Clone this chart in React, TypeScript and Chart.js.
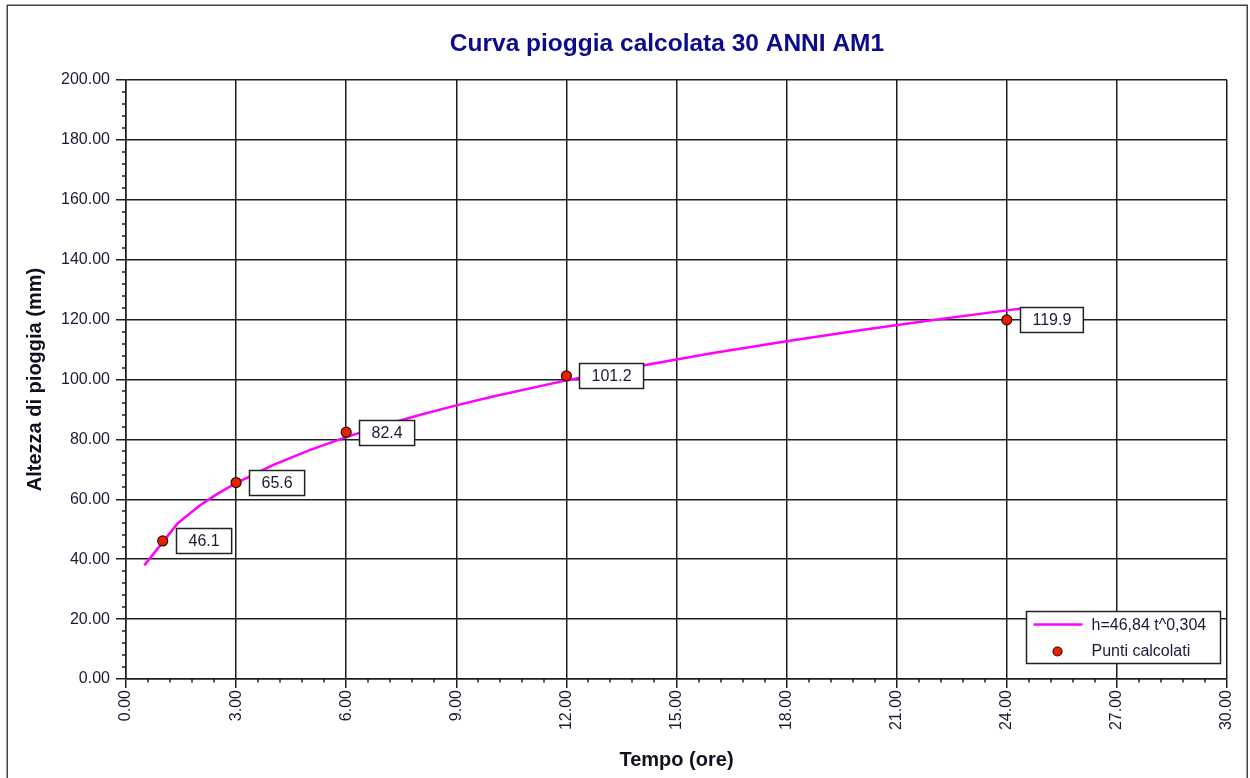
import { useEffect, useRef } from 'react';
import { Chart, registerables } from 'chart.js';

Chart.register(...registerables);

// Fitted curve h = 46,84 t^0,304
const curveT = [0.5, 1.4, 2, 2.5, 3, 4, 5, 6, 7, 8, 9, 10, 12, 14, 16, 18, 20, 22, 24, 24.4];
const curveH = [37.94, 51.88, 57.83, 61.88, 65.41, 71.39, 76.41, 80.76, 84.63, 88.13, 91.35, 94.33, 99.7, 104.49, 108.82, 112.78, 116.45, 119.87, 123.08, 123.7];

// Computed points
const pointT = [1, 3, 6, 12, 24];
const pointH = [46.1, 65.6, 82.4, 101.2, 119.9];

const xTicks = [0, 3, 6, 9, 12, 15, 18, 21, 24, 27, 30];
const yTicks = [0, 20, 40, 60, 80, 100, 120, 140, 160, 180, 200];

const curveLabel = 'h=46,84 t^0,304';
const pointsLabel = 'Punti calcolati';
const titleText = 'Curva pioggia calcolata 30 ANNI AM1';
const xTitle = 'Tempo (ore)';
const yTitle = 'Altezza di pioggia (mm)';

const FONT = '"Liberation Sans", Arial, sans-serif';
const TEXT = '#1a1a36';
const GRID = '#1e1e1e';
const MAGENTA = '#ff00ff';
const RED = '#e82000';

const framePlugin = {
  id: 'frame',
  beforeDraw(chart: any) {
    const ctx = chart.ctx;
    ctx.save();
    ctx.fillStyle = '#ffffff';
    ctx.fillRect(0, 0, chart.width, chart.height);
    ctx.strokeStyle = '#444444';
    ctx.lineWidth = 1.5;
    ctx.strokeRect(7.25, 5.25, 1240, 830);
    ctx.restore();
  },
};

const titlePlugin = {
  id: 'customTitle',
  afterDraw(chart: any) {
    const ctx = chart.ctx;
    ctx.save();
    ctx.fillStyle = '#0c0c8a';
    ctx.font = `bold 24.5px ${FONT}`;
    ctx.textAlign = 'center';
    ctx.textBaseline = 'middle';
    ctx.fillText(titleText, 667, 44);
    ctx.restore();
  },
};

const minorTicksPlugin = {
  id: 'minorTicks',
  afterDraw(chart: any) {
    const { ctx, chartArea: a } = chart;
    const x = chart.scales.x;
    const y = chart.scales.y;
    ctx.save();
    ctx.strokeStyle = GRID;
    ctx.lineWidth = 1.5;
    ctx.beginPath();
    for (let i = 0; i < xTicks.length - 1; i++) {
      for (let k = 1; k < 5; k++) {
        const v = xTicks[i] + ((xTicks[i + 1] - xTicks[i]) * k) / 5;
        const px = Math.round(x.getPixelForValue(v));
        ctx.moveTo(px, a.bottom);
        ctx.lineTo(px, a.bottom + 3.5);
      }
    }
    for (let i = 0; i < yTicks.length - 1; i++) {
      for (let k = 1; k < 5; k++) {
        const v = yTicks[i] + ((yTicks[i + 1] - yTicks[i]) * k) / 5;
        const py = Math.round(y.getPixelForValue(v));
        ctx.moveTo(a.left, py);
        ctx.lineTo(a.left - 4, py);
      }
    }
    ctx.stroke();
    ctx.restore();
  },
};

const labelsPlugin = {
  id: 'pointLabels',
  afterDatasetsDraw(chart: any) {
    const ctx = chart.ctx;
    const meta = chart.getDatasetMeta(1);
    ctx.save();
    ctx.font = `16px ${FONT}`;
    ctx.textBaseline = 'middle';
    ctx.textAlign = 'center';
    meta.data.forEach((el: any, i: number) => {
      const txt = pointH[i].toFixed(1);
      const tw = ctx.measureText(txt).width;
      const w = tw + 24;
      const h = 25;
      const bx = Math.round(el.x + 13) + 0.5;
      const by = Math.round(el.y - h / 2) + 0.5;
      ctx.fillStyle = '#ffffff';
      ctx.fillRect(bx, by, w, h);
      ctx.strokeStyle = '#222222';
      ctx.lineWidth = 1.5;
      ctx.strokeRect(bx, by, w, h);
      ctx.fillStyle = TEXT;
      ctx.fillText(txt, bx + w / 2, by + h / 2 + 1);
    });
    ctx.restore();
  },
};

const legendPlugin = {
  id: 'innerLegend',
  afterDraw(chart: any) {
    const { ctx, chartArea: a } = chart;
    const w = 194;
    const h = 52;
    const right = a.right - 7;
    const bottom = a.bottom - 16;
    const left = Math.round(right - w) + 0.5;
    const top = Math.round(bottom - h) + 0.5;
    ctx.save();
    ctx.fillStyle = '#ffffff';
    ctx.fillRect(left, top, w, h);
    ctx.strokeStyle = '#222222';
    ctx.lineWidth = 1.5;
    ctx.strokeRect(left, top, w, h);
    ctx.strokeStyle = MAGENTA;
    ctx.lineWidth = 2.5;
    ctx.beginPath();
    ctx.moveTo(left + 7, top + 13);
    ctx.lineTo(left + 56, top + 13);
    ctx.stroke();
    ctx.fillStyle = RED;
    ctx.strokeStyle = '#300800';
    ctx.lineWidth = 1.2;
    ctx.beginPath();
    ctx.arc(left + 31, top + 40, 4.5, 0, Math.PI * 2);
    ctx.fill();
    ctx.stroke();
    ctx.fillStyle = TEXT;
    ctx.font = `16px ${FONT}`;
    ctx.textBaseline = 'middle';
    ctx.textAlign = 'left';
    ctx.fillText(chart.data.datasets[0].label, left + 65, top + 14);
    ctx.fillText(chart.data.datasets[1].label, left + 65, top + 40);
    ctx.restore();
  },
};

export default function App() {
  const ref = useRef<HTMLCanvasElement | null>(null);

  useEffect(() => {
    if (!ref.current) return;
    const chart = new Chart(ref.current, {
      type: 'scatter',
      data: {
        datasets: [
          {
            label: curveLabel,
            data: curveT.map((t, i) => ({ x: t, y: curveH[i] })),
            showLine: true,
            borderColor: MAGENTA,
            backgroundColor: MAGENTA,
            borderWidth: 2.5,
            pointRadius: 0,
            tension: 0,
            order: 1,
          },
          {
            label: pointsLabel,
            data: pointT.map((t, i) => ({ x: t, y: pointH[i] })),
            showLine: false,
            pointRadius: 5,
            pointBackgroundColor: RED,
            pointBorderColor: '#300800',
            pointBorderWidth: 1.2,
            order: 0,
          },
        ],
      },
      options: {
        animation: false,
        responsive: false,
        maintainAspectRatio: false,
        layout: { padding: { left: 0, right: 23, top: 80, bottom: 0 } },
        plugins: {
          legend: { display: false },
          tooltip: { enabled: false },
          title: { display: false },
        },
        scales: {
          x: {
            type: 'linear',
            position: 'bottom',
            min: 0,
            max: 30,
            afterBuildTicks: (s: any) => {
              s.ticks = xTicks.map((v) => ({ value: v }));
            },
            afterFit: (s: any) => {
              s.height = 99;
            },
            grid: { color: GRID, lineWidth: 1.5, tickLength: 9, tickColor: GRID, tickWidth: 1.5 },
            border: { color: GRID, width: 1.5 },
            ticks: {
              minRotation: 90,
              maxRotation: 90,
              padding: 2,
              color: TEXT,
              font: { family: FONT, size: 16 },
              callback: (v: any) => Number(v).toFixed(2),
            },
            title: {
              display: true,
              text: xTitle,
              color: '#101020',
              font: { family: FONT, size: 20, weight: 'bold', lineHeight: 1.2 },
              padding: { top: 0, bottom: 6 },
            },
          },
          y: {
            type: 'linear',
            position: 'left',
            min: 0,
            max: 200,
            afterBuildTicks: (s: any) => {
              s.ticks = yTicks.map((v) => ({ value: v }));
            },
            afterFit: (s: any) => {
              s.width = 126;
            },
            grid: { color: GRID, lineWidth: 1.5, tickLength: 10, tickColor: GRID, tickWidth: 1.5 },
            border: { color: GRID, width: 1.5 },
            ticks: {
              padding: 6,
              color: TEXT,
              font: { family: FONT, size: 16 },
              callback: (v: any) => Number(v).toFixed(2),
            },
            title: {
              display: true,
              text: yTitle,
              color: '#101020',
              font: { family: FONT, size: 20, weight: 'bold', lineHeight: 1.2 },
              padding: { top: 23, bottom: 0 },
            },
          },
        },
      },
      plugins: [framePlugin, minorTicksPlugin, labelsPlugin, legendPlugin, titlePlugin],
    } as any);
    return () => chart.destroy();
  }, []);

  return (
    <div style={{ position: 'absolute', left: 0, top: 0, width: 1250, height: 778, background: '#fff' }}>
      <canvas ref={ref} width={1250} height={778} style={{ width: 1250, height: 778, display: 'block' }} />
    </div>
  );
}
